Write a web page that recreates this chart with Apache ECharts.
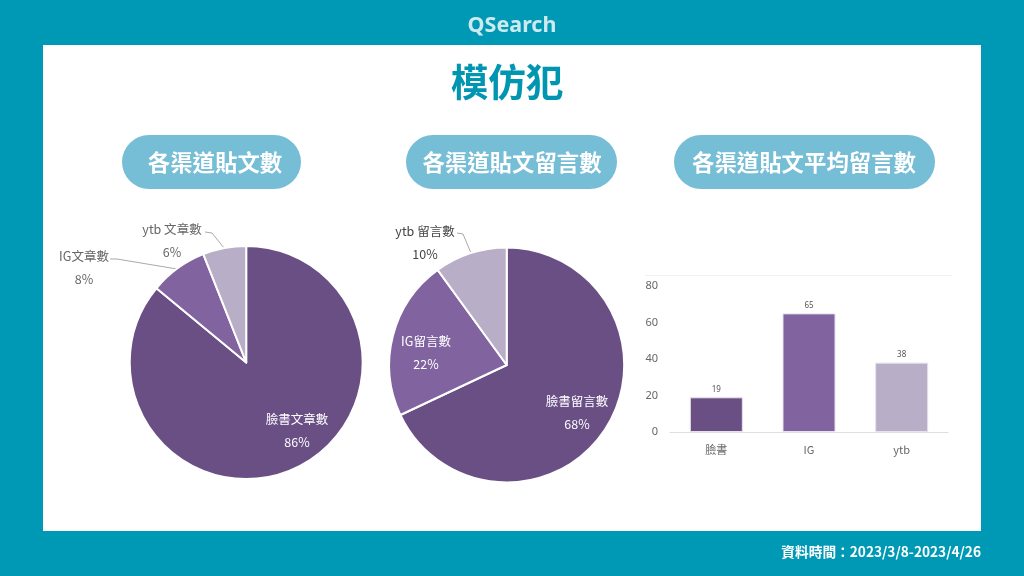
<!DOCTYPE html>
<html><head><meta charset="utf-8">
<style>html,body{margin:0;padding:0;background:#0099b5}#c{width:1024px;height:576px}</style>
<script src="https://cdn.jsdelivr.net/npm/echarts@6/dist/echarts.min.js"></script>
</head><body><div id="c"></div>
<script>
const pageTitle = '模仿犯';
const brand = 'QSearch';
const footer = '資料時間：2023/3/8-2023/4/26';
const pillTitles = ['各渠道貼文數', '各渠道貼文留言數', '各渠道貼文平均留言數'];
const postNames = ['臉書文章數', 'IG文章數', 'ytb 文章數'];
const postValues = [86, 8, 6];
const commentNames = ['臉書留言數', 'IG留言數', 'ytb 留言數'];
const commentValues = [68, 22, 10];
const barCategories = ['臉書', 'IG', 'ytb'];
const barValues = [19, 65, 38];
const yTicks = [0, 20, 40, 60, 80];

const colors = ['#6a4f85', '#80639f', '#b9aec8'];
const F = '"Noto Sans CJK TC","Noto Sans",sans-serif';
const TEAL = '#0099b5', PILL = '#76bdd6';

const pills = [[122, 135, 179, 54, 215], [406, 135, 211, 54, 512], [674, 135, 261, 54, 804]];
const graphic = [
  { type: 'rect', z: 0, shape: { x: 43, y: 45, width: 938, height: 486 }, style: { fill: '#fff' } },
  { type: 'text', z: 1, x: 512, y: 26, style: { text: brand, fill: '#cdeaf0', font: '700 21.5px "Noto Sans",sans-serif', align: 'center', verticalAlign: 'middle' } },
  { type: 'text', z: 1, x: 507, y: 82, style: { text: pageTitle, fill: '#0095b0', font: '700 37.5px ' + F, align: 'center', verticalAlign: 'middle' } },
  { type: 'text', z: 1, x: 981, y: 552, style: { text: footer, fill: '#fff', font: '700 13.7px ' + F, align: 'right', verticalAlign: 'middle' } },
  { type: 'line', z: 1, shape: { x1: 645, y1: 275.5, x2: 952, y2: 275.5 }, style: { stroke: '#f0f0f0', lineWidth: 1 } }
];
pills.forEach((p, i) => {
  graphic.push({ type: 'rect', z: 1, shape: { x: p[0], y: p[1], width: p[2], height: p[3], r: 27 }, style: { fill: PILL } });
  graphic.push({ type: 'text', z: 2, x: p[4], y: p[1] + p[3] / 2, style: { text: pillTitles[i], fill: '#fff', font: '700 22.4px ' + F, align: 'center', verticalAlign: 'middle' } });
});

function pie(names, values, center, radius, labelPos, linePts, inside, dark) {
  return {
    type: 'pie', z: 3, center, radius, startAngle: 90, clockwise: true, animation: false, silent: true,
    itemStyle: { borderColor: '#fff', borderWidth: 2 },
    labelLine: { show: true, lineStyle: { color: '#aaa', width: 1 } },
    label: { show: true, formatter: '{b}\n{c}%', fontFamily: F, fontSize: 12.5, lineHeight: 23, align: 'center', color: '#666' },
    data: names.map((n, i) => ({
      name: n, value: values[i], itemStyle: { color: colors[i] },
      label: { color: inside[i] ? '#fff' : (dark[i] ? '#444' : '#666') },
      labelLine: { show: !inside[i] }
    })),
    labelLayout: p => ({
      x: labelPos[p.dataIndex][0], y: labelPos[p.dataIndex][1], align: 'center', verticalAlign: 'middle',
      labelLinePoints: linePts[p.dataIndex] || undefined
    })
  };
}

const chart = echarts.init(document.getElementById('c'), null, { renderer: 'canvas' });
chart.setOption({
  backgroundColor: TEAL, animation: false, graphic,
  grid: { left: 670, width: 278, top: 286, height: 146 },
  xAxis: {
    type: 'category', data: barCategories,
    axisLine: { lineStyle: { color: '#e0dde6' } }, axisTick: { show: false },
    axisLabel: { color: '#666', fontSize: 11, fontFamily: F, margin: 12 }
  },
  yAxis: {
    type: 'value', min: 0, max: 80, interval: yTicks[1],
    axisLine: { show: false }, axisTick: { show: false }, splitLine: { show: false },
    axisLabel: { color: '#666', fontSize: 11, fontFamily: '"Noto Sans",sans-serif', margin: 12, padding: [2, 0, 0, 0] }
  },
  series: [
    pie(postNames, postValues, [246.2, 362.5], [0, 116.5],
      [[297, 431], [84, 268], [172, 241]],
      [null, [[110, 259], [117, 259], [177, 269]], [[205, 232], [212, 233], [224, 248]]],
      [true, false, false], [false, false, false]),
    pie(commentNames, commentValues, [506.7, 365], [0, 117.5],
      [[577, 413], [426, 353], [425, 243]],
      [null, null, [[457, 233], [463, 234], [471, 253]]],
      [true, true, false], [false, false, true]),
    {
      type: 'bar', z: 3, barWidth: 53, animation: false, silent: true,
      data: barValues.map((v, i) => ({ value: v, itemStyle: { color: colors[i], borderColor: '#e6e1ec', borderWidth: 1 } })),
      label: { show: true, position: 'top', distance: 4, color: '#555', fontSize: 8, fontFamily: '"Noto Sans",sans-serif' }
    }
  ]
});
</script></body></html>
